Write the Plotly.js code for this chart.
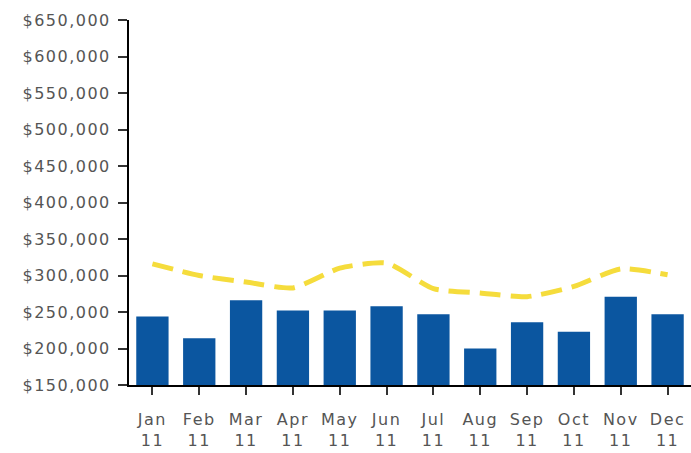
<!DOCTYPE html>
<html>
<head>
<meta charset="utf-8">
<script src="https://cdn.plot.ly/plotly-3.0.1.min.js"></script>
<style>
html,body{margin:0;padding:0;background:#fff;}
#chart{width:691px;height:453px;}
#chart .xtick text, #chart .ytick text{letter-spacing:1.5px;}
</style>
</head>
<body>
<div id="chart"></div>
<script>
const months = ["Jan<br>11","Feb<br>11","Mar<br>11","Apr<br>11","May<br>11","Jun<br>11","Jul<br>11","Aug<br>11","Sep<br>11","Oct<br>11","Nov<br>11","Dec<br>11"];
const barValues = [244000, 214000, 266000, 252000, 252000, 258000, 247000, 200000, 236000, 223000, 271000, 247000];
const lineValues = [316000, 300000, 291000, 283000, 310000, 317000, 282000, 276000, 271000, 285000, 309000, 301000];

const traces = [
  {
    type: 'bar',
    x: months,
    y: barValues,
    marker: {color: '#0b56a0', line: {width: 0}},
    hoverinfo: 'y'
  },
  {
    type: 'scatter',
    mode: 'lines',
    x: months,
    y: lineValues,
    line: {color: '#f5dc3c', width: 5, dash: '21px,10px', shape: 'spline', smoothing: 0.6},
    hoverinfo: 'y'
  }
];

const layout = {
  width: 691,
  height: 453,
  margin: {l: 129, r: 0, t: 20, b: 68},
  paper_bgcolor: '#fff',
  plot_bgcolor: '#fff',
  showlegend: false,
  bargap: 0.31,
  font: {family: 'DejaVu Sans, Verdana, sans-serif', size: 16, color: '#555'},
  xaxis: {
    type: 'category',
    range: [-0.5, 11.5],
    showline: true,
    linecolor: '#000',
    linewidth: 2,
    ticks: 'outside',
    ticklen: 8,
    tickwidth: 2,
    tickcolor: '#333',
    ticklabelstandoff: 11,
    showgrid: false,
    zeroline: false,
    tickfont: {size: 16, color: '#555'}
  },
  yaxis: {
    range: [150000, 650000],
    dtick: 50000,
    tick0: 150000,
    tickprefix: '$',
    tickformat: ',d',
    showline: true,
    linecolor: '#000',
    linewidth: 2,
    ticks: 'outside',
    ticklen: 9,
    tickwidth: 2,
    tickcolor: '#333',
    ticklabelstandoff: 4,
    showgrid: false,
    zeroline: false,
    tickfont: {size: 16, color: '#555'}
  }
};

Plotly.newPlot('chart', traces, layout, {displayModeBar: false, staticPlot: true});
</script>
</body>
</html>
